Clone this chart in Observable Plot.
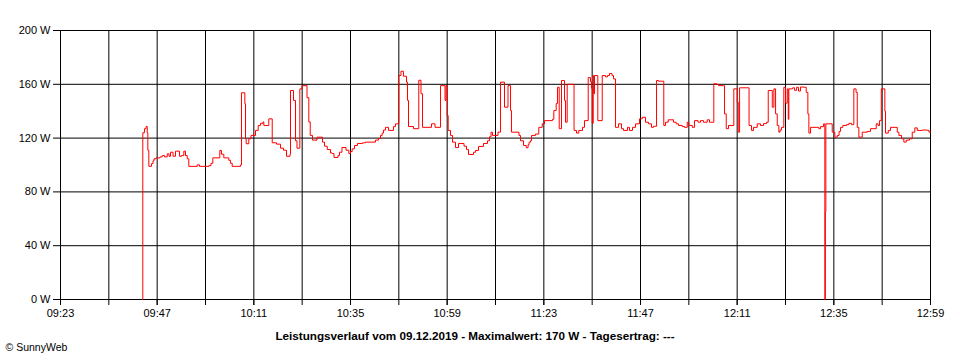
<!DOCTYPE html>
<html>
<head>
<meta charset="utf-8">
<script src="https://cdn.jsdelivr.net/npm/d3@7"></script>
<script src="https://cdn.jsdelivr.net/npm/@observablehq/plot@0.6"></script>
<style>
  html, body { margin: 0; padding: 0; background: #fff; }
  #chart svg { display: block; }
</style>
</head>
<body>
<div id="chart"></div>
<script>
const times = [
"09:43:22","09:43:26","09:43:52","09:44:14","09:44:32","09:44:41","09:44:56","09:45:36","09:45:58","09:46:13",
"09:46:43","09:47:42","09:48:15","09:48:50","09:49:30","09:49:57","09:50:19","09:50:56","09:51:33","09:52:33",
"09:53:03","09:53:37","09:54:02","09:54:28","09:54:51","09:56:56","09:57:31","09:59:49","10:00:22","10:00:49",
"10:02:33","10:02:58","10:03:33","10:04:47","10:05:12","10:05:38","10:07:41","10:07:56","10:08:46","10:08:56",
"10:09:06","10:09:45","10:10:18","10:11:25","10:12:05","10:12:39","10:13:17","10:13:29","10:14:43","10:15:34",
"10:16:38","10:17:37","10:18:22","10:19:07","10:19:59","10:20:06","10:20:51","10:21:21","10:21:43","10:22:25",
"10:22:58","10:24:12","10:24:39","10:25:00","10:25:34","10:26:41","10:28:03","10:28:33","10:29:13","10:30:02",
"10:30:27","10:30:54","10:31:54","10:32:16","10:32:53","10:33:53","10:34:35","10:35:00","10:35:25","10:35:59",
"10:36:44","10:37:59","10:38:43","10:41:12","10:41:57","10:42:27","10:42:52","10:43:11","10:43:41","10:44:26",
"10:45:40","10:46:10","10:46:59","10:47:32","10:48:09","10:48:54","10:49:09","10:49:24","10:50:38","10:51:57",
"10:52:30","10:52:53","10:55:07","10:55:59","10:57:21","10:58:28","10:58:43","10:59:00","10:59:15","10:59:50",
"11:00:20","11:01:04","11:01:49","11:03:11","11:03:48","11:04:18","11:05:32","11:06:02","11:06:47","11:08:01",
"11:09:01","11:09:31","11:09:53","11:10:15","11:11:37","11:12:15","11:13:14","11:14:06","11:14:44","11:14:58",
"11:16:50","11:17:13","11:17:57","11:18:38","11:19:05","11:19:20","11:19:42","11:19:57","11:20:56","11:21:45",
"11:22:36","11:23:10","11:25:09","11:25:29","11:26:04","11:26:24","11:26:49","11:27:23","11:28:08","11:28:23",
"11:28:48","11:30:30","11:31:07","11:31:41","11:32:36","11:33:06","11:34:01","11:34:35","11:34:50","11:35:01",
"11:35:16","11:35:25","11:35:35","11:36:24","11:37:30","11:38:19","11:38:49","11:39:18","11:39:56","11:40:18",
"11:40:48","11:41:32","11:42:17","11:42:47","11:43:46","11:44:16","11:45:01","11:45:46","11:46:45","11:47:25",
"11:48:15","11:48:59","11:49:44","11:50:14","11:50:59","11:51:28","11:52:47","11:53:13","11:53:53","11:55:12",
"11:55:52","11:56:27","11:57:22","11:57:56","11:58:36","11:59:00","11:59:51","12:00:25","12:01:17","12:01:54",
"12:02:39","12:03:34","12:04:08","12:05:12","12:05:52","12:06:22","12:07:37","12:07:52","12:08:17","12:08:51",
"12:10:10","12:11:01","12:11:16","12:11:36","12:13:57","12:14:34","12:15:04","12:15:59","12:16:48","12:17:33",
"12:18:18","12:18:43","12:19:43","12:20:07","12:20:32","12:20:57","12:21:21","12:21:39","12:22:01","12:22:35",
"12:23:01","12:23:26","12:23:41","12:23:50","12:24:45","12:25:15","12:25:45","12:26:14","12:26:44","12:27:29",
"12:28:09","12:28:33","12:28:48","12:29:13","12:31:17","12:31:42","12:32:27","12:32:46","12:32:54","12:33:01",
"12:34:36","12:35:15","12:35:51","12:36:18","12:36:40","12:37:14","12:38:09","12:38:44","12:39:24","12:39:58",
"12:40:31","12:40:49","12:41:13","12:42:03","12:43:18","12:44:07","12:44:59","12:45:32","12:45:59","12:46:21",
"12:46:47","12:47:40","12:47:50","12:48:31","12:49:05","12:50:45","12:51:09","12:51:49","12:52:23","12:52:59",
"12:53:48","12:54:28","12:55:07","12:55:43","12:56:58","12:58:12","12:58:37","12:59:00"
];
const watts = [
0,124,127,128.6,124,111,99,101,103,104.6,
105.3,106,107,106,108.3,106.5,109.5,106.5,110.3,106.5,
107,110.3,107,104.6,99,100.1,99,99.5,101.3,105.3,
110.8,108,105.3,103.5,101.3,99,100,153.7,145.5,119.5,
115.8,119.5,122,125.7,129.4,131,132,129.4,134.3,116.5,
115.5,112.5,111,106.5,108,155.4,148,118,112.5,156.6,
159,150,132,122,118.5,120.7,117,114,111.5,109,
108.5,105.6,107,109.5,113,111,108.5,110,112,114.5,
116,116.5,117,118.5,119.7,122,123.7,126,128,125.7,
128.5,130.6,166.5,169.7,166,161.6,148,128.6,127,163,
153,128,130.6,128,159,148,159,136.8,125.7,122,
117,113,116,114,111.5,107.8,109.5,110.8,113.8,116,
118,121,124.4,122,124.4,161.6,143,159,140.5,124.4,
122,118,114.5,112.8,115,117,118,122,123,128,
130.6,133,134,140.5,145.7,157.8,127,162.8,148,131.8,
160,125.7,123.7,125.7,128,133,165,162,157,131,
166.5,153,166.5,133,166.5,165.5,166.5,168,166.5,164,
128,130.6,127,125.7,128,125.7,128,130.6,134.3,135.5,
131.8,130.6,128,128.8,162.8,162.3,129.4,131.8,133.6,131.8,
130.6,129.4,128.6,128,131.8,129.4,128,133,131.8,133,
131.8,133.6,131.8,160.4,160,159,159,138,127,129.4,
156.6,146.7,124.4,157.4,129.4,125.7,128,130.6,129.4,130.8,
131.8,155.4,143,156.6,138,129.4,124.4,126,128,157.8,
146,156.6,134,156.6,157.4,155.5,157.8,155,158,157.8,
154,138,123.7,128,127,128.5,130.6,0,65,130.6,
124.4,120.7,122,125,128,129.4,130,131,130,156.6,
154,128,120.7,124.4,125,127,127,130.6,129.4,133,
156.6,140,123.7,125.7,128,124.4,122,119.5,117,118.5,
119.5,124.4,127.6,125.7,126,125.7,124.4,124.4
];
const yTicks = [0, 40, 80, 120, 160, 200];
const xGridTimes = ["09:23","09:35","09:47","09:59","10:11","10:23","10:35","10:47","10:59","11:11",
  "11:23","11:35","11:47","11:59","12:11","12:23","12:35","12:47","12:59"];
const xLabelTimes = ["09:23","09:47","10:11","10:35","10:59","11:23","11:47","12:11","12:35","12:59"];
const titleText = "Leistungsverlauf vom 09.12.2019 - Maximalwert: 170 W - Tagesertrag: ---";
const creditText = "\u00A9 SunnyWeb";

const parseT = d3.timeParse("%H:%M:%S");
const parseHM = d3.timeParse("%H:%M");
const fmtHM = d3.timeFormat("%H:%M");
const data = times.map((t, i) => ({t: parseT(t), w: watts[i]}));
const gridT = xGridTimes.map(parseHM);
const labelT = xLabelTimes.map(parseHM);

const font = "'Liberation Sans', Arial, sans-serif";

const chart = Plot.plot({
  width: 960,
  height: 360,
  marginLeft: 60,
  marginRight: 30,
  marginTop: 30,
  marginBottom: 61,
  style: {fontFamily: font, fontSize: "11px", color: "#000", background: "#fff"},
  x: {type: "time", domain: [parseHM("09:23"), parseHM("12:59")]},
  y: {domain: [0, 200]},
  marks: [
    Plot.gridY(yTicks, {stroke: "#000", strokeOpacity: 1, strokeWidth: 1}),
    Plot.gridX(gridT, {stroke: "#000", strokeOpacity: 1, strokeWidth: 1}),
    Plot.axisY(yTicks, {tickSize: 7, tickPadding: 3, tickFormat: d => `${d} W`, label: null, stroke: "#000"}),
    Plot.axisX(gridT, {tickSize: 6, tickFormat: () => "", label: null, stroke: "#000"}),
    Plot.axisX(labelT, {tickSize: 6, tickPadding: 4, tickFormat: fmtHM, label: null, stroke: "#000"}),
    Plot.line(data, {x: "t", y: "w", curve: "step-after", stroke: "#ff0000", strokeWidth: 1}),
    Plot.text([titleText], {frameAnchor: "bottom", dy: 40, dx: -20.5, text: d => d, fontWeight: "bold", fontSize: 11.7, fill: "#000"}),
    Plot.text([creditText], {frameAnchor: "bottom-left", dx: -55, dy: 51, text: d => d, fontSize: 10.5, fill: "#000", textAnchor: "start"})
  ]
});
document.getElementById("chart").appendChild(chart);
</script>
</body>
</html>
